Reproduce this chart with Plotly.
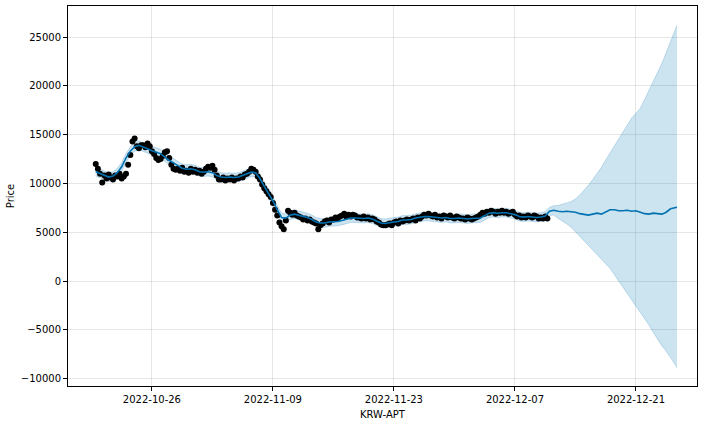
import pandas as pd
import plotly.graph_objects as go

# ---------------- data ----------------
obs_start = "2022-10-19 12:00"   # observed points every 6 hours
observed = [
    12000, 11500,
    11000, 10100, 10800, 10500,
    10900, 10600, 10400, 10800,
    10700, 11000, 10500, 10700,
    11000, 11900, 12900, 14300,
    14600, 13800, 13600, 13900,
    13900, 13700, 14100, 13800,
    13300, 13000, 12600, 12400,
    12500, 12800, 13200, 13300,
    12600, 11900, 11500, 11400,
    11500, 11300, 11600, 11200,
    11300, 11100, 11500, 11200,
    11400, 11100, 11300, 11000,
    11200, 11500, 11700, 11600,
    11800, 11400, 10800, 10400,
    10400, 10600, 10300, 10500,
    10400, 10600, 10300, 10500,
    10500, 10700, 10600, 10900,
    11000, 11200, 11500, 11400,
    11200, 10700, 10400, 9900,
    9500, 9200, 8900, 8600,
    8000, 7300, 6700, 6000,
    5600, 5300, 6200, 7200,
    7000, 6800, 7000, 6700,
    6600, 6500, 6300, 6400,
    6200, 6300, 6100, 6000,
    5900, 5300, 5700, 5900,
    6100, 6200, 6000, 6300,
    6300, 6500, 6400, 6600,
    6700, 6900, 6600, 6800,
    6600, 6800, 6700, 6500,
    6500, 6400, 6600, 6400,
    6500, 6300, 6400, 6300,
    6100, 6000, 5800, 5700,
    5700, 5800, 5900, 5700,
    6000, 6100, 5900, 6200,
    6100, 6200, 6300, 6200,
    6300, 6400, 6200, 6500,
    6400, 6600, 6800, 6700,
    6900, 6700, 6600, 6800,
    6500, 6600, 6400, 6700,
    6600, 6500, 6700, 6500,
    6400, 6600, 6500, 6400,
    6400, 6300, 6500, 6400,
    6300, 6400, 6500, 6600,
    6800, 7000, 6900, 7100,
    7000, 7200, 7100, 6900,
    7100, 7000, 7200, 7000,
    7100, 6900, 7000, 7100,
    6800, 6600, 6700, 6500,
    6600, 6500, 6700, 6600,
    6500, 6700, 6600, 6400,
    6500, 6400, 6600, 6400,
]

fc_start = "2022-10-19 12:00"    # forecast every 12 hours
fc_end = "2022-12-25 12:00"
fc_last = "2022-12-25 18:00"
yhat = [
    11200,
    11000, 10800, 10650, 10750, 11100, 11700, 12600, 13300, 13750, 13900,
    13750, 13550, 13350, 13200, 13050, 12700, 12350, 12100, 11800, 11550,
    11450, 11500, 11400, 11200,
    11150, 11200, 11100, 10800, 10650, 10600, 10650, 10600, 10650, 10800,
    11000, 11150, 11100, 10500, 9700, 9000, 8200, 7300, 6500, 6450,
    6750, 6850, 6750, 6650, 6500, 6300, 6050, 5950, 5950, 6050,
    6050, 6100, 6200, 6350, 6450, 6450, 6400, 6400, 6450, 6350,
    6150, 5950, 5900, 6000, 6050, 6100, 6250, 6250, 6300, 6450,
    6550, 6600, 6600, 6550, 6450, 6450, 6500, 6400, 6400, 6450,
    6400, 6350, 6400, 6450, 6450, 6700, 6950, 7000, 6950, 7000,
    7000, 6900, 6800, 6600, 6550, 6600, 6550, 6500, 6550, 6650,
    7150, 7250, 7150, 7100, 7150, 7100, 7050, 6900, 6800, 6750,
    6850, 6950, 6850, 7050, 7300, 7300, 7200, 7200, 7250, 7150,
    7200, 7050, 6900, 6850, 6950, 6900, 6850, 7050, 7400, 7500,
    7550,
]
yhat_upper = [
    11650,
    11450, 11250, 11100, 11200, 11550, 12150, 13050, 13750, 14200, 14350,
    14200, 14000, 13800, 13650, 13500, 13150, 12800, 12550, 12250, 12000,
    11900, 11950, 11850, 11650,
    11600, 11650, 11550, 11250, 11100, 11050, 11100, 11050, 11100, 11250,
    11450, 11600, 11550, 10950, 10150, 9450, 8650, 7750, 6950, 6900,
    7200, 7300, 7200, 7100, 6950, 6750, 6500, 6400, 6400, 6500,
    6500, 6550, 6650, 6800, 6900, 6900, 6850, 6850, 6900, 6800,
    6600, 6400, 6350, 6450, 6500, 6550, 6700, 6700, 6750, 6900,
    7000, 7050, 7050, 7000, 6900, 6900, 6950, 6850, 6850, 6900,
    6850, 6800, 6850, 6900, 6900, 7150, 7400, 7450, 7400, 7450,
    7450, 7350, 7250, 7050, 7000, 7050, 7000, 6950, 7000, 7100,
    7550, 7700, 7750, 7850, 8000, 8150, 8400, 8800, 9250, 9800,
    10400, 11000, 11650, 12400, 13100, 13800, 14500, 15200, 16000, 16700,
    17200, 17700, 18600, 19500, 20400, 21300, 22300, 23400, 24500, 25500,
    26200,
]
yhat_lower = [
    10750,
    10550, 10350, 10200, 10300, 10650, 11250, 12150, 12850, 13300, 13450,
    13300, 13100, 12900, 12750, 12600, 12250, 11900, 11650, 11350, 11100,
    11000, 11050, 10950, 10750,
    10700, 10750, 10650, 10350, 10200, 10150, 10200, 10150, 10200, 10350,
    10550, 10700, 10650, 10050, 9250, 8550, 7750, 6850, 6050, 6000,
    6300, 6400, 6300, 6200, 6050, 5850, 5600, 5500, 5500, 5600,
    5600, 5650, 5750, 5900, 6000, 6000, 5950, 5950, 6000, 5900,
    5700, 5500, 5450, 5550, 5600, 5650, 5800, 5800, 5850, 6000,
    6100, 6150, 6150, 6100, 6000, 6000, 6050, 5950, 5950, 6000,
    5950, 5900, 5950, 6000, 6000, 6250, 6500, 6550, 6500, 6550,
    6550, 6450, 6350, 6150, 6100, 6150, 6100, 6050, 6100, 6200,
    6700, 6750, 6400, 6150, 5850, 5500, 5000, 4550, 4100, 3650,
    3200, 2700, 2200, 1750, 1300, 650, 0, -650, -1250, -1850,
    -2550, -3200, -3850, -4500, -5250, -6000, -6650, -7200, -7800, -8500,
    -8900,
]

x_tick_dates = ["2022-10-26", "2022-11-09", "2022-11-23", "2022-12-07", "2022-12-21"]
y_ticks = [-10000, -5000, 0, 5000, 10000, 15000, 20000, 25000]
x_title = "KRW-APT"
y_title = "Price"

# ---------------- build ----------------
obs_dates = pd.date_range(obs_start, periods=len(observed), freq="6h")
fc_dates = pd.date_range(fc_start, fc_end, freq="12h").append(pd.DatetimeIndex([fc_last]))
assert len(fc_dates) == len(yhat) == len(yhat_upper) == len(yhat_lower), (len(fc_dates), len(yhat), len(yhat_upper), len(yhat_lower))

BLUE = "#0072B2"
fig = go.Figure()
fig.add_trace(go.Scatter(x=fc_dates, y=yhat_upper, mode="lines",
                         line=dict(color="rgba(0,114,178,0.2)", width=1),
                         showlegend=False, hoverinfo="skip"))
fig.add_trace(go.Scatter(x=fc_dates, y=yhat_lower, mode="lines",
                         line=dict(color="rgba(0,114,178,0.2)", width=1),
                         fill="tonexty", fillcolor="rgba(0,114,178,0.2)",
                         showlegend=False, hoverinfo="skip"))
fig.add_trace(go.Scatter(x=obs_dates, y=observed, mode="markers",
                         marker=dict(color="black", size=6, line=dict(width=0)),
                         name="Observed data points", showlegend=False))
fig.add_trace(go.Scatter(x=fc_dates, y=yhat, mode="lines",
                         line=dict(color=BLUE, width=1.6), name="Forecast",
                         showlegend=False))

axis_common = dict(showline=True, mirror=True, linecolor="black", linewidth=1,
                   ticks="outside", ticklen=4, tickcolor="black", tickwidth=1,
                   showgrid=True, gridcolor="rgba(128,128,128,0.2)", gridwidth=1,
                   zeroline=False, tickfont=dict(size=10, color="black"),
                   title_font=dict(size=10, color="black"))

fig.update_xaxes(**axis_common, type="date",
                 range=["2022-10-16 07:00", "2022-12-28 01:30"],
                 tickvals=pd.to_datetime(x_tick_dates), tickformat="%Y-%m-%d",
                 title_text=x_title, title_standoff=6)
fig.update_yaxes(**axis_common, range=[-10758, 28176], tickvals=y_ticks,
                 tickformat="d", title_text=y_title, title_standoff=4)

fig.update_layout(width=712, height=424, margin=dict(l=68, r=15, t=6, b=38),
                  paper_bgcolor="white", plot_bgcolor="white",
                  font=dict(family="DejaVu Sans", size=10, color="black"))

fig.write_html("out.html", config={"displayModeBar": False},
               post_script="document.body.style.margin='0';document.body.style.padding='0';")
